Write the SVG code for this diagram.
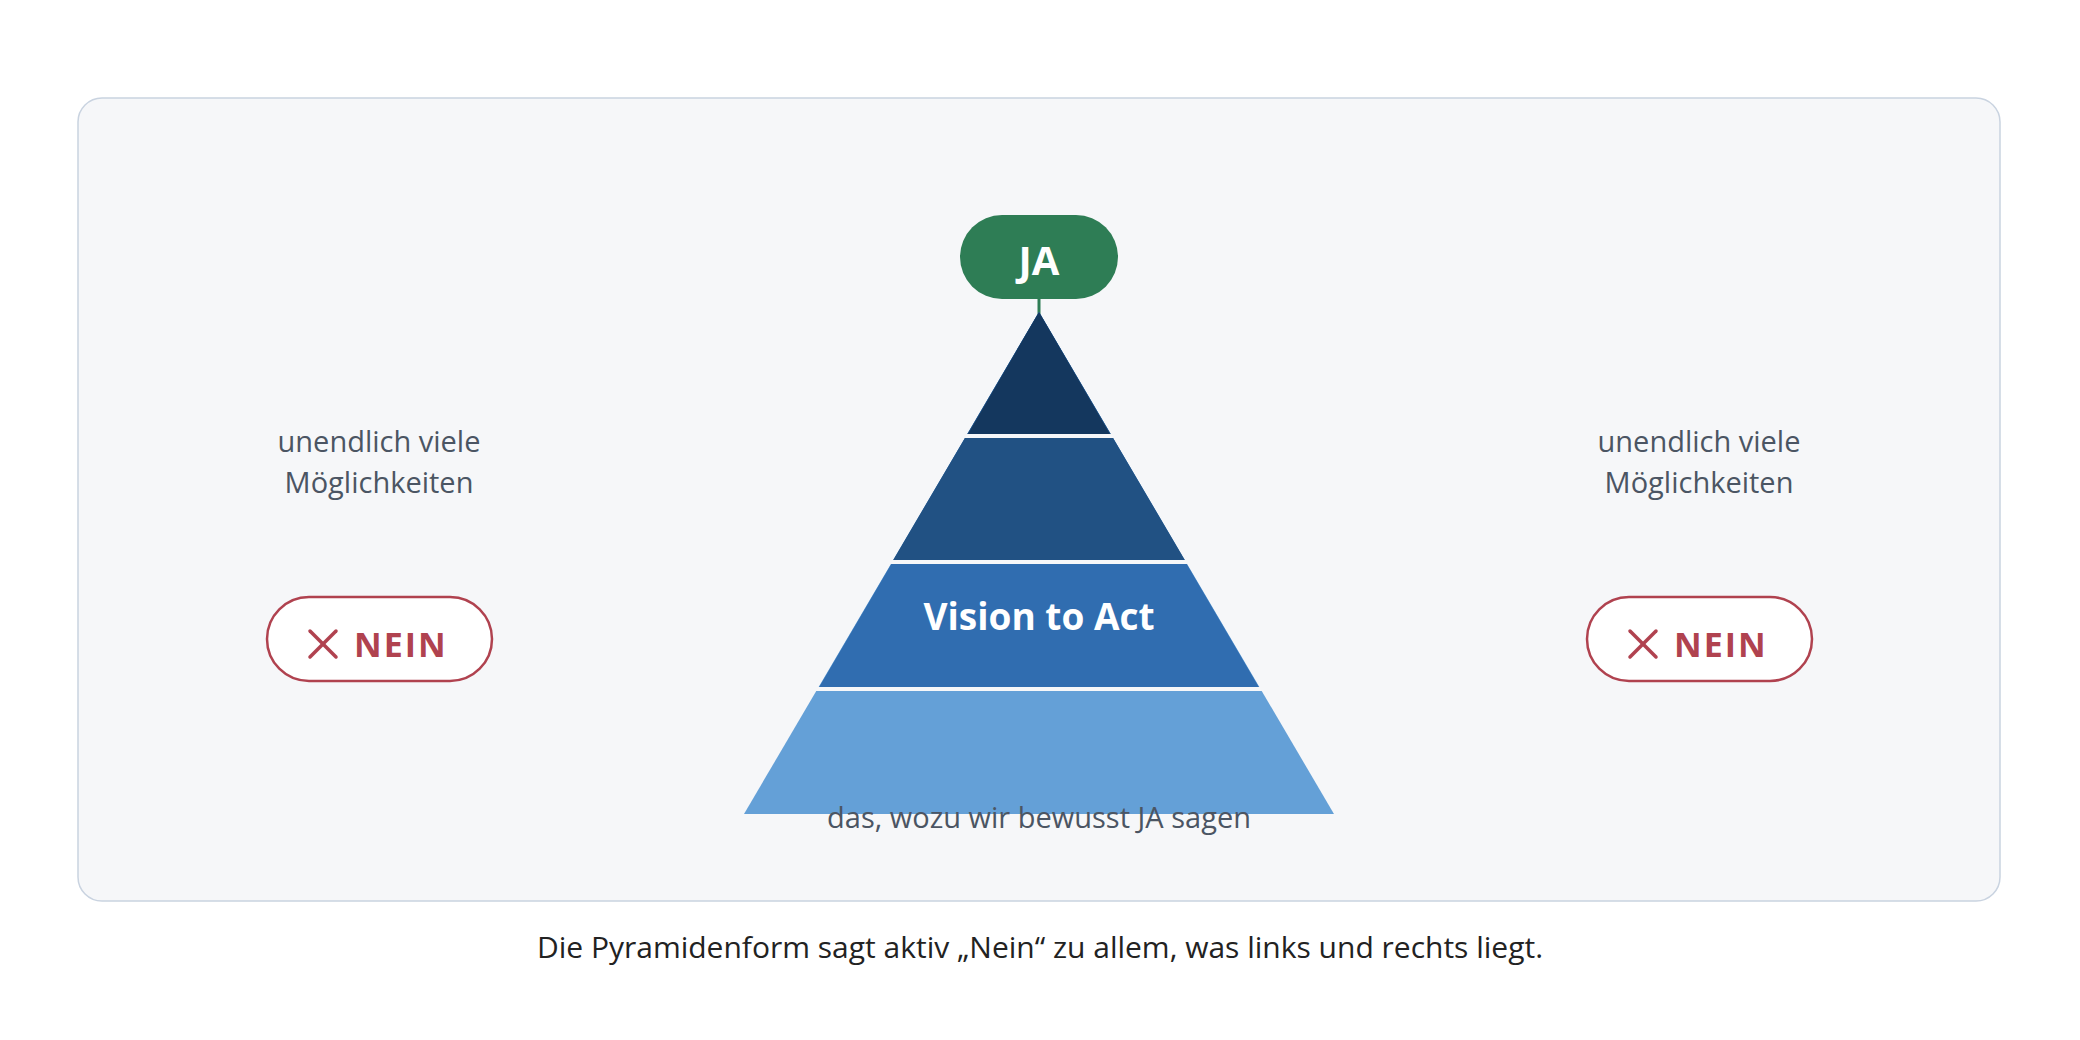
<svg xmlns="http://www.w3.org/2000/svg" width="2080" height="1040" viewBox="0 0 2080 1040">
<style>
.t{font-family:"Open Sans","Noto Sans",sans-serif}
.side{font-size:29px;fill:#4b5563;text-anchor:middle}
.nein{fill:#fff;stroke:#b0424f;stroke-width:2.5}
.nt{font-size:34px;font-weight:700;fill:#b0424f;letter-spacing:2px}
.x{stroke:#b0424f;stroke-width:3.5;stroke-linecap:round}
.div{stroke:#f6f7f9;stroke-width:4}
</style>
<rect width="2080" height="1040" fill="#fff"/>
<rect x="78" y="98" width="1922" height="803" rx="24" fill="#f6f7f9" stroke="#c9d3e0" stroke-width="1.5"/>
<g id="connectors"><line x1="1039" y1="298" x2="1039" y2="314" stroke="#2e7d55" stroke-width="3"/></g>
<g id="pyramid">
<polygon points="1039,312 1334,814 744,814" fill="#64a0d7"/>
<polygon points="1039,312 1260,689 818,689" fill="#306db0"/>
<polygon points="1039,312 1186,562 892,562" fill="#215183"/>
<polygon points="1039,312 1111,436 967,436" fill="#14375e"/>
<line class="div" x1="964" y1="436" x2="1114" y2="436"/>
<line class="div" x1="889" y1="562" x2="1189" y2="562"/>
<line class="div" x1="815" y1="689" x2="1263" y2="689"/>
<text class="t" x="1039" y="630" font-size="37" font-weight="700" fill="#fff" text-anchor="middle">Vision to Act</text>
</g>
<g id="ja">
<rect x="960" y="215" width="158" height="84" rx="42" fill="#2e7d55"/>
<text class="t" x="1039" y="275" font-size="40" font-weight="700" fill="#fff" text-anchor="middle">JA</text>
</g>
<text class="t" x="1039" y="828" font-size="29" fill="#4b5563" text-anchor="middle">das, wozu wir bewusst JA sagen</text>
<g id="left">
<text class="t side" x="379" y="452">unendlich viele</text>
<text class="t side" x="379" y="493">Möglichkeiten</text>
</g>
<g id="nein-left">
<rect class="nein" x="267" y="597" width="225" height="84" rx="42"/>
<line class="x" x1="310" y1="631" x2="336" y2="657"/><line class="x" x1="336" y1="631" x2="310" y2="657"/>
<text class="t nt" x="354" y="657">NEIN</text>
</g>
<g id="right">
<text class="t side" x="1699" y="452">unendlich viele</text>
<text class="t side" x="1699" y="493">Möglichkeiten</text>
</g>
<g id="nein-right">
<rect class="nein" x="1587" y="597" width="225" height="84" rx="42"/>
<line class="x" x1="1630" y1="631" x2="1656" y2="657"/><line class="x" x1="1656" y1="631" x2="1630" y2="657"/>
<text class="t nt" x="1674" y="657">NEIN</text>
</g>
<text class="t" x="1040" y="958" font-size="30" fill="#222" text-anchor="middle">Die Pyramidenform sagt aktiv „Nein“ zu allem, was links und rechts liegt.</text>
</svg>
